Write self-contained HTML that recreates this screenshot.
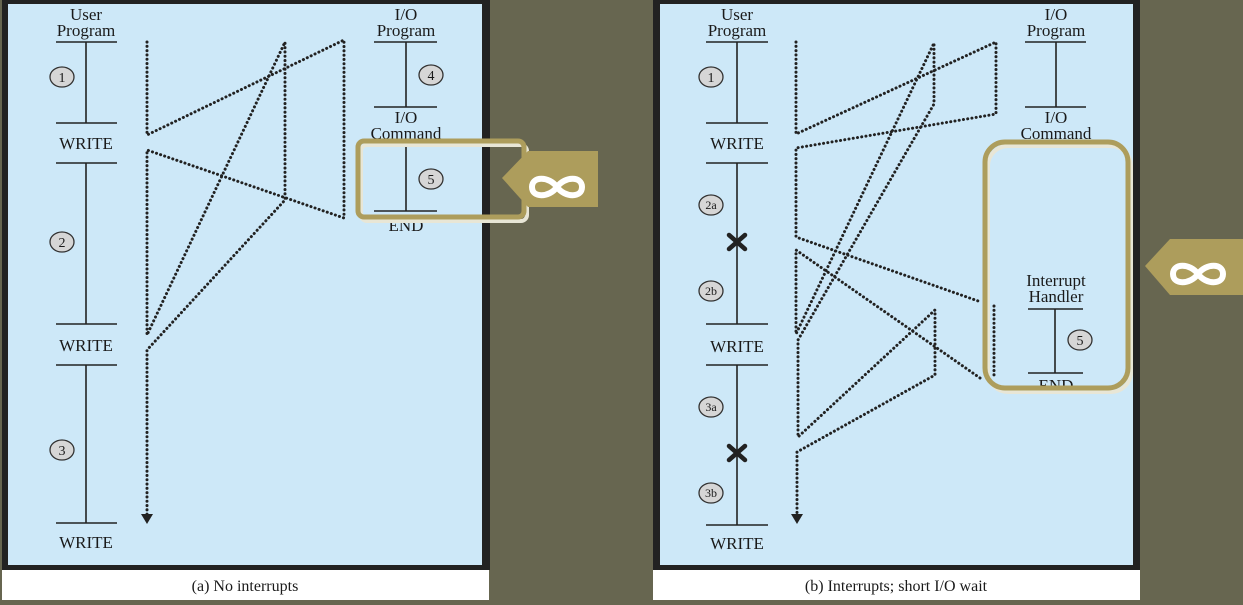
<!DOCTYPE html>
<html><head><meta charset="utf-8"><style>
html,body{margin:0;padding:0;background:#676650;}
svg{display:block;}
text{font-family:"Liberation Serif",serif;fill:#1a1a1a;}
</style></head><body>
<svg width="1243" height="605" viewBox="0 0 1243 605" xmlns="http://www.w3.org/2000/svg">
<rect width="1243" height="605" fill="#676650"/>
<!-- Panel A -->
<rect x="2" y="0" width="488" height="570" fill="#222"/>
<rect x="8" y="4" width="474" height="561" fill="#cde8f8"/>
<rect x="2" y="570" width="487" height="30" fill="#fff"/>
<text x="245" y="591" font-size="16" text-anchor="middle">(a) No interrupts</text>
<!-- Panel B -->
<rect x="653" y="0" width="487" height="570" fill="#222"/>
<rect x="660" y="4" width="473" height="561" fill="#cde8f8"/>
<rect x="653" y="570" width="487" height="30" fill="#fff"/>
<text x="896" y="591" font-size="16" text-anchor="middle">(b) Interrupts; short I/O wait</text>

<g stroke="#222" stroke-width="1.6" fill="none">
<line x1="56" y1="42" x2="117" y2="42"/><line x1="86" y1="42" x2="86" y2="123"/><line x1="56" y1="123" x2="117" y2="123"/>
<line x1="56" y1="163" x2="117" y2="163"/><line x1="86" y1="163" x2="86" y2="324"/><line x1="56" y1="324" x2="117" y2="324"/>
<line x1="56" y1="365" x2="117" y2="365"/><line x1="86" y1="365" x2="86" y2="523"/><line x1="56" y1="523" x2="117" y2="523"/>
<line x1="374" y1="42" x2="437" y2="42"/><line x1="406" y1="42" x2="406" y2="107"/><line x1="374" y1="107" x2="437" y2="107"/>
<line x1="374" y1="145" x2="437" y2="145"/><line x1="406" y1="145" x2="406" y2="211"/><line x1="374" y1="211" x2="437" y2="211"/>
<line x1="706" y1="42" x2="768" y2="42"/><line x1="737" y1="42" x2="737" y2="123"/><line x1="706" y1="123" x2="768" y2="123"/>
<line x1="706" y1="163" x2="768" y2="163"/><line x1="737" y1="163" x2="737" y2="324"/><line x1="706" y1="324" x2="768" y2="324"/>
<line x1="706" y1="365" x2="768" y2="365"/><line x1="737" y1="365" x2="737" y2="525"/><line x1="706" y1="525" x2="768" y2="525"/>
<line x1="1025" y1="42" x2="1086" y2="42"/><line x1="1056" y1="42" x2="1056" y2="107"/><line x1="1025" y1="107" x2="1086" y2="107"/>
<line x1="1028" y1="309" x2="1083" y2="309"/><line x1="1055" y1="309" x2="1055" y2="373"/><line x1="1028" y1="373" x2="1083" y2="373"/>
</g>

<g stroke="#222" stroke-width="3" fill="none" stroke-dasharray="0.1 4.2" stroke-linecap="round">
<polyline points="147,42 147,135 344,40 344,218 147,150 147,335 285,42 285,200 147,350 147,515"/>
<polyline points="796,42 796,134 996,42 996,114 796,148 796,237 981,302"/>
<polyline points="994,306 994,378"/>
<polyline points="980,378 796,250 796,334 934,43 934,104 798,340 798,437 935,310 935,375 797,452 797,515"/>
</g>
<polygon points="141,514 153,514 147,524" fill="#222"/>
<polygon points="791,514 803,514 797,524" fill="#222"/>

<g stroke="#222" stroke-width="4.5" stroke-linecap="round">
<line x1="729" y1="235" x2="745" y2="249"/><line x1="745" y1="235" x2="729" y2="249"/>
<line x1="729" y1="446" x2="745" y2="460"/><line x1="745" y1="446" x2="729" y2="460"/>
</g>

<g fill="#d6d6d6" stroke="#333" stroke-width="1.3">
<ellipse cx="62" cy="77" rx="12" ry="10"/><ellipse cx="62" cy="242" rx="12" ry="10"/><ellipse cx="62" cy="450" rx="12" ry="10"/>
<ellipse cx="431" cy="75" rx="12" ry="10"/><ellipse cx="431" cy="179" rx="12" ry="10"/>
<ellipse cx="711" cy="77" rx="12" ry="10"/><ellipse cx="711" cy="205" rx="12" ry="10"/><ellipse cx="711" cy="291" rx="12" ry="10"/>
<ellipse cx="711" cy="407" rx="12" ry="10"/><ellipse cx="711" cy="493" rx="12" ry="10"/>
<ellipse cx="1080" cy="340" rx="12" ry="10"/>
</g>
<g font-size="14" text-anchor="middle">
<text x="62" y="82">1</text><text x="62" y="247">2</text><text x="62" y="455">3</text>
<text x="431" y="80">4</text><text x="431" y="184">5</text>
<text x="711" y="82">1</text><text x="711" y="209" font-size="12">2a</text><text x="711" y="295" font-size="12">2b</text>
<text x="711" y="411" font-size="12">3a</text><text x="711" y="497" font-size="12">3b</text>
<text x="1080" y="345">5</text>
</g>

<g font-size="17" text-anchor="middle">
<text x="86" y="20">User</text><text x="86" y="36">Program</text>
<text x="86" y="149">WRITE</text><text x="86" y="351">WRITE</text><text x="86" y="548">WRITE</text>
<text x="406" y="20">I/O</text><text x="406" y="36">Program</text>
<text x="406" y="123">I/O</text><text x="406" y="139">Command</text>
<text x="406" y="231">END</text>
<text x="737" y="20">User</text><text x="737" y="36">Program</text>
<text x="737" y="149">WRITE</text><text x="737" y="352">WRITE</text><text x="737" y="549">WRITE</text>
<text x="1056" y="20">I/O</text><text x="1056" y="36">Program</text>
<text x="1056" y="123">I/O</text><text x="1056" y="139">Command</text>
<text x="1056" y="286">Interrupt</text><text x="1056" y="302">Handler</text>
<text x="1056" y="391">END</text>
</g>

<rect x="361" y="145" width="166" height="76" rx="6" fill="none" stroke="#e8e6d6" stroke-width="4"/>
<rect x="358" y="141" width="166" height="76" rx="6" fill="none" stroke="#ad9d5c" stroke-width="5"/>
<rect x="988" y="146" width="143" height="246" rx="20" fill="none" stroke="#e8e6d6" stroke-width="4"/>
<rect x="985" y="142" width="143" height="246" rx="20" fill="none" stroke="#ad9d5c" stroke-width="5"/>

<polygon points="502,178 528,151 598,151 598,207 528,207" fill="#ad9d5c"/>
<polygon points="1145,266 1170,239 1243,239 1243,295 1170,295" fill="#ad9d5c"/>
<g fill="none" stroke="#fff" stroke-width="6">
<path d="M557,187 C549,176 532,176 532,187 C532,198 549,198 557,187 C565,176 582,176 582,187 C582,198 565,198 557,187 Z"/>
<path d="M1198,274 C1190,263 1173,263 1173,274 C1173,285 1190,285 1198,274 C1206,263 1223,263 1223,274 C1223,285 1206,285 1198,274 Z"/>
</g>
</svg>
</body></html>
